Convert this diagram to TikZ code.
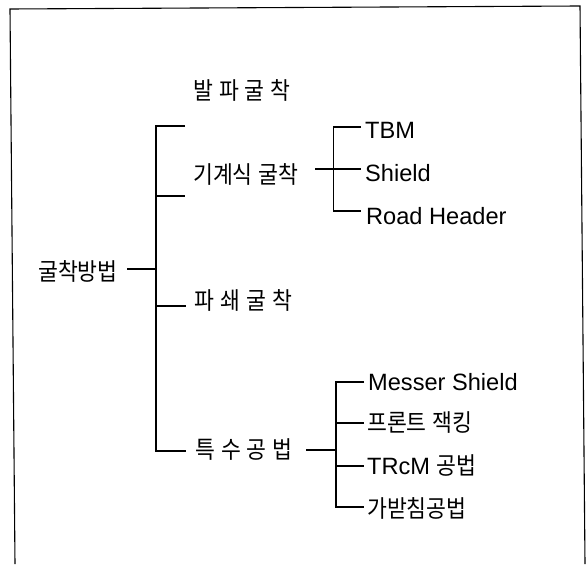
\documentclass[tikz,border=0pt]{standalone}
\usepackage{fontspec}
\setmainfont{Liberation Sans}
\newfontfamily\kr[FakeStretch=0.9]{Noto Sans CJK KR}
\newcommand{\ksp}{\hspace{6pt}}
\newcommand{\krsize}{\fontsize{24}{26}\selectfont}
\begin{document}
\begin{tikzpicture}[x=1pt,y=-1pt,
  ln/.style={line width=1.3pt},
  fr/.style={line width=1.1pt},
  lat/.style={font=\fontsize{23.6}{26}\selectfont, inner sep=0pt, anchor=base west},
  kor/.style={font=\kr\krsize, inner sep=0pt, anchor=west}]
\useasboundingbox (0,0) rectangle (588,564);
% frame
\coordinate (f1) at (15,564);
\coordinate (f2) at (10,9);
\coordinate (f3) at (580,6);
\coordinate (f4) at (585,564);
\draw[fr] (f1) -- (f2) -- (f3) -- (f4);

% level 0
\node[kor] (root) at (38,271) {굴착방법};
% level 1 texts
\node[kor] (a1) at (193,90) {발\ksp 파\ksp 굴\ksp 착};
\node[kor] (a2) at (193,174) {기계식\ksp 굴착};
\node[kor] (a3) at (194.5,300) {파\ksp 쇄\ksp 굴\ksp 착};
\node[kor] (a4) at (195,450) {특\ksp 수\ksp 공\ksp 법};

% main trunk
\coordinate (rootR) at (127,269);
\coordinate (tT) at (156,126);
\coordinate (tB) at (156,451);
\coordinate (tR) at (156,269);
\coordinate (s1) at (185,126);
\coordinate (j2) at (156,196);
\coordinate (s2) at (185,196);
\coordinate (j3) at (156,306);
\coordinate (s3) at (186,306);
\coordinate (s4) at (186,451);
\draw[ln] (rootR) -- (tR);
\draw[ln] (s1) -- (tT) -- (tB) -- (s4);
\draw[ln] (j2) -- (s2);
\draw[ln] (j3) -- (s3);

% mechanical excavation branch
\node[lat] (b1) at (365,139) {TBM};
\node[lat] (b2) at (365,182) {Shield};
\node[lat] (b3) at (366,224) {Road Header};
\coordinate (m0) at (315,169);
\coordinate (mT) at (333.5,127);
\coordinate (mM) at (333.5,169);
\coordinate (mB) at (333.5,211);
\coordinate (e1) at (361,127);
\coordinate (e2) at (361,169);
\coordinate (e3) at (361,211);
\draw[ln] (e1) -- (mT) -- (mB) -- (e3);
\draw[ln] (m0) -- (e2);

% special methods branch
\node[lat] (c1) at (368,390) {Messer Shield};
\node[kor] (c2) at (367,423) {프론트\ksp 잭킹};
\node[lat] (c3) at (367,474) {TRcM {\kr\krsize 공법}};
\node[kor] (c4) at (367,508) {가받침공법};
\coordinate (n0) at (306,450);
\coordinate (nM) at (336,450);
\coordinate (nT) at (336,382);
\coordinate (nB) at (336,507);
\coordinate (g1) at (364,382);
\coordinate (j2b) at (336,423);
\coordinate (g2) at (364,423);
\coordinate (j3b) at (336,466);
\coordinate (g3) at (364,466);
\coordinate (g4) at (364,507);
\draw[ln] (g1) -- (nT) -- (nB) -- (g4);
\draw[ln] (n0) -- (nM);
\draw[ln] (j2b) -- (g2);
\draw[ln] (j3b) -- (g3);
\end{tikzpicture}
\end{document}
